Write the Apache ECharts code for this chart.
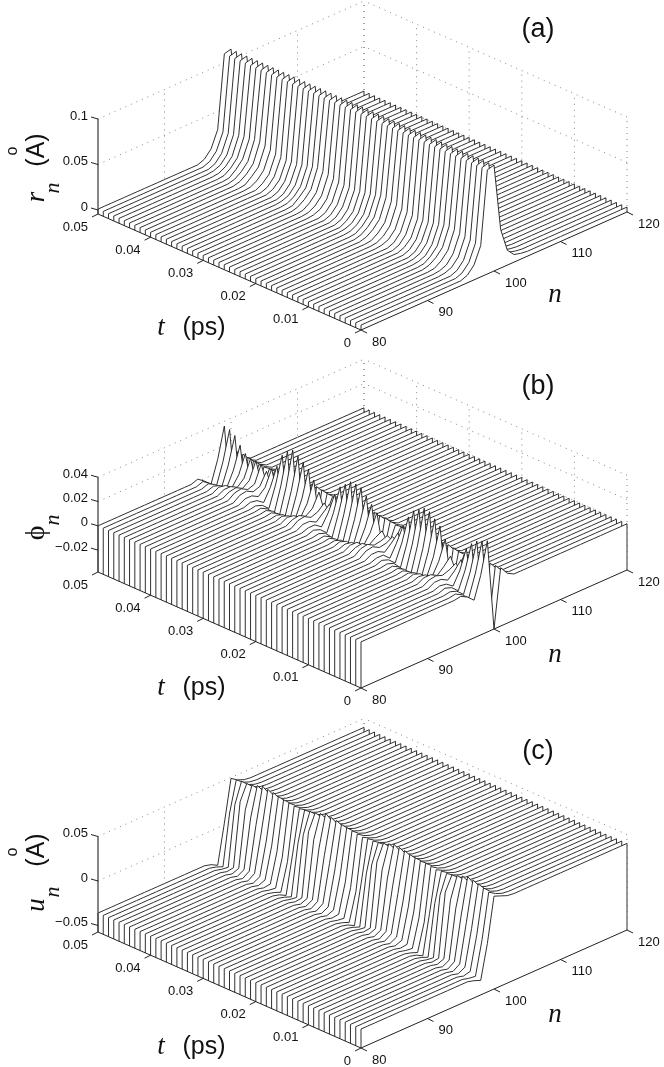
<!DOCTYPE html>
<html>
<head>
<meta charset="utf-8">
<style>html,body{margin:0;padding:0;background:#fff}#main{width:664px;height:1067px}</style>
<script src="https://cdn.jsdelivr.net/npm/echarts@6/dist/echarts.min.js"></script>
</head>
<body>
<div id="main"></div>
<script>
// time of each waterfall line (ps)
var tValues = [0,0.001,0.002,0.003,0.004,0.005,0.006,0.007,0.008,0.009,0.01,0.011,0.012,0.013,0.014,0.015,0.016,0.017,0.018,0.019,0.02,0.021,0.022,0.023,0.024,0.025,0.026,0.027,0.028,0.029,0.03,0.031,0.032,0.033,0.034,0.035,0.036,0.037,0.038,0.039,0.04,0.041,0.042,0.043,0.044,0.045,0.046,0.047,0.048,0.049,0.05];
var nTicks = [80,90,100,110,120];
var tTicks = [0,0.01,0.02,0.03,0.04,0.05];
var tTickLabels = ['0','0.01','0.02','0.03','0.04','0.05'];

// values are in 1e-3 units
// base line per site n=80..120, sites listed below replace it line by line
var rBase = [1,1,1,1,1,1,1,1,1,1,1,1,1,1,1, 1,4,12,30, 110,112,38,12,4,2, 1,1,1,1,1,1,1,1,1,1,1,1,1,1,1,1];
var r95 = [1,1,1,2,2,2,3,2,2,2,1,1,1,1,1,2,2,2,3,3,2,2,2,1,1,1,1,1,2,2,2,3,2,2,2,1,1,1,1,1,2,2,3,3,2,2,2,2,1,1,1];
var r96 = [4,4,4,5,5,7,8,7,5,5,4,4,4,4,4,5,6,7,8,8,7,6,5,5,4,4,4,4,5,6,7,8,8,6,5,4,4,4,4,5,6,8,8,8,8,7,6,5,4,4,4];
var r97 = [12,12,12,13,14,15,16,15,14,13,12,12,11,12,12,13,14,15,16,16,15,14,13,12,12,12,12,12,13,14,15,16,15,14,13,12,12,11,12,12,14,15,16,16,16,15,14,13,12,12,12];
var r98 = [30,30,31,32,33,35,36,35,33,32,30,30,29,30,31,32,34,35,37,37,35,33,32,31,30,30,30,31,32,34,35,37,35,33,32,30,30,29,30,31,33,35,37,37,35,35,34,32,31,30,30];
var rTicks = [0,50,100];
var rTickLabels = ['0','0.05','0.1'];

var phiBase = [0,0,0,0,0,0,0,0,0,0,0,0,0,0,0, 1,-2,-7,11,33,-27,9, 3,0,0, 0,0,0,0,0,0,0,0,0,0,0,0,0,0,0,0];
var phi95 = [1,1,1,2,2,3,3,3,2,2,1,1,1,1,1,2,2,3,4,4,3,3,2,2,1,1,1,1,2,2,3,4,3,3,2,1,1,1,1,1,2,3,4,4,3,3,3,2,2,2,2];
var phi96 = [-2,-2,-1,0,1,3,4,3,1,0,-1,-2,-2,-2,-1,0,2,3,5,5,4,3,1,0,-1,-2,-2,-1,0,2,3,5,4,2,0,-1,-2,-2,-2,-1,1,3,5,5,4,3,2,0,-1,-2,-2];
var phi97 = [-7,-7,-6,-5,-3,0,2,0,-3,-5,-7,-8,-8,-8,-7,-5,-3,0,2,2,0,-2,-4,-6,-7,-8,-8,-7,-5,-2,0,2,1,-2,-5,-7,-8,-8,-8,-6,-3,0,2,2,1,0,-2,-4,-6,-7,-7];
var phi98 = [11,11,10,9,7,5,4,5,7,9,11,12,13,12,11,9,7,5,3,3,4,6,8,10,11,12,12,11,9,7,5,4,5,7,9,11,12,13,12,11,7,5,4,4,5,5,6,8,10,11,11];
var phi99 = [37,35,33,29,23,12,7,11,23,32,36,40,41,38,35,28,19,11,6,5,7,20,25,30,35,36,36,32,28,20,10,9,16,24,31,35,38,41,38,33,22,18,14,18,19,19,21,26,32,35,36];
var phi100 = [-38,-35,-33,-29,-21,-9,-3,-7,-19,-27,-31,-34,-35,-34,-31,-25,-15,-7,-3,-3,-7,-15,-23,-27,-30,-32,-32,-29,-25,-17,-7,-3,-6,-17,-26,-30,-33,-35,-33,-29,-19,-9,-4,-4,-7,-9,-11,-21,-27,-30,-31];
var phi101 = [10,10,10,9,8,7,7,7,8,9,10,10,10,10,10,9,8,7,7,7,7,8,9,9,10,10,10,10,9,8,7,7,7,8,9,10,10,10,10,9,8,7,7,7,7,7,7,8,9,10,10];
var phiTicks = [-20,0,20,40];
var phiTickLabels = ['\u22120.02','0','0.02','0.04'];

var uBase = [-36,-36,-36,-36,-36,-36,-36,-36,-36,-36,-36,-36,-36,-36,-36,-36,-36, -38, -41,0,47, 44,41, 40,40,40,40,40,40,40,40,40,40,40,40,40,40,40,40,40,40];
var u98 = [-41,-39,-36,-34,-33,-33,-34,-35,-37,-39,-41,-42,-41,-39,-37,-35,-34,-33,-33,-34,-35,-37,-39,-41,-42,-41,-39,-37,-35,-34,-33,-33,-34,-35,-37,-39,-41,-42,-41,-39,-37,-35,-34,-33,-33,-34,-35,-37,-39,-41,-42];
var u99 = [-3,-1,2,6,10,15,21,28,34,28,16,2,-10,-8,-4,0,4,9,15,21,28,34,28,16,2,-10,-8,-4,0,4,9,15,21,28,34,28,16,2,-10,-8,-4,0,4,9,15,21,28,34,28,16,2];
var u100 = [47,49,51,53,55,56,54,52,50,49,49,48,49,50,50,51,52,54,55,56,54,52,50,49,49,48,49,50,51,52,54,55,57,54,52,51,50,49,49,50,51,52,54,55,56,54,52,51,51,50,49];
var uTicks = [-50,0,50];
var uTickLabels = ['\u22120.05','0','0.05'];

var views = [
    {base: rBase, lines: {95: r95, 96: r96, 97: r97, 98: r98}, zMin: -4.4, zMax: 100, zPx: 0.91, zTicks: rTicks, zLabels: rTickLabels, floorY: 330},
    {base: phiBase, lines: {95: phi95, 96: phi96, 97: phi97, 98: phi98, 99: phi99, 100: phi100, 101: phi101}, zMin: -38, zMax: 40, zPx: 1.215, zTicks: phiTicks, zLabels: phiTickLabels, floorY: 688},
    {base: uBase, lines: {98: u98, 99: u99, 100: u100}, zMin: -57.3, zMax: 50, zPx: 0.89, zTicks: uTicks, zLabels: uTickLabels, floorY: 1048}
];

var tickFont = '"Liberation Sans"';
var lineColor = '#1a1a1a';

// the 3d box is orthographic, so n, t and z map linearly on to the plane axes
function toPlane(view, n, t, z) {
    var nf = (n - 80) / 40, tf = t / 0.05;
    return [266 * nf - 263 * tf, 118 * nf + 116 * tf + (z - view.zMin) * view.zPx];
}

function profile(view, k) {
    var vals = view.base.slice();
    for (var key in view.lines) {
        vals[key - 80] = view.lines[key][k];
    }
    return vals;
}

function ribbonItem(view) {
    return function (params, api) {
        var k = api.value(0), t = tValues[k];
        var vals = profile(view, k);
        var pts = [api.coord(toPlane(view, 80, t, view.zMin))];
        vals.forEach(function (v, i) {
            pts.push(api.coord(toPlane(view, 80 + i, t, v)));
        });
        pts.push(api.coord(toPlane(view, 120, t, view.zMin)));
        return {
            type: 'group',
            children: [
                {type: 'polygon', shape: {points: pts}, style: {fill: '#fff', stroke: null}},
                {type: 'polyline', shape: {points: pts}, style: {fill: null, stroke: lineColor, lineWidth: 0.9}}
            ]
        };
    };
}

function seg(api, view, a, b, style) {
    var p = api.coord(toPlane(view, a[0], a[1], a[2]));
    var q = api.coord(toPlane(view, b[0], b[1], b[2]));
    return {type: 'line', shape: {x1: p[0], y1: p[1], x2: q[0], y2: q[1]}, style: style};
}

function wallItem(view) {
    return function (params, api) {
        var dot = {stroke: '#777', lineWidth: 0.9, lineDash: [1, 5]};
        var kids = [];
        view.zTicks.forEach(function (z) {
            kids.push(seg(api, view, [80, 0.05, z], [120, 0.05, z], dot));
            kids.push(seg(api, view, [120, 0, z], [120, 0.05, z], dot));
        });
        nTicks.slice(1).forEach(function (n) {
            kids.push(seg(api, view, [n, 0.05, view.zMin], [n, 0.05, view.zMax], dot));
        });
        tTicks.forEach(function (t) {
            kids.push(seg(api, view, [120, t, view.zMin], [120, t, view.zMax], dot));
        });
        return {type: 'group', children: kids};
    };
}

function label(p, dx, dy, text, align) {
    return {
        type: 'text', x: p[0] + dx, y: p[1] + dy,
        style: {text: text, fill: '#111', fontSize: 13, fontFamily: tickFont, align: align, verticalAlign: 'middle'}
    };
}

function axisItem(view) {
    return function (params, api) {
        var ax = {stroke: '#222', lineWidth: 1};
        var kids = [
            seg(api, view, [80, 0, view.zMin], [120, 0, view.zMin], ax),
            seg(api, view, [80, 0, view.zMin], [80, 0.05, view.zMin], ax),
            seg(api, view, [80, 0.05, view.zMin], [80, 0.05, view.zMax], {stroke: '#444', lineWidth: 1.3})
        ];
        nTicks.forEach(function (n) {
            var p = api.coord(toPlane(view, n, 0, view.zMin));
            kids.push({type: 'line', shape: {x1: p[0], y1: p[1], x2: p[0] + 6, y2: p[1] + 3}, style: ax});
            kids.push(label(p, 11, 12, String(n), 'left'));
        });
        tTicks.forEach(function (t, i) {
            var p = api.coord(toPlane(view, 80, t, view.zMin));
            kids.push({type: 'line', shape: {x1: p[0], y1: p[1], x2: p[0] - 6, y2: p[1] + 3}, style: ax});
            kids.push(label(p, -10, 13, tTickLabels[i], 'right'));
        });
        view.zTicks.forEach(function (z, i) {
            var p = api.coord(toPlane(view, 80, 0.05, z));
            kids.push({type: 'line', shape: {x1: p[0], y1: p[1], x2: p[0] - 7, y2: p[1] - 2}, style: ax});
            kids.push(label(p, -10, -3, view.zLabels[i], 'right'));
        });
        return {type: 'group', children: kids};
    };
}

var grids = [], xAxes = [], yAxes = [], series = [];
views.forEach(function (view, i) {
    grids.push({left: 98, width: 529, top: view.floorY - 330, height: 330});
    xAxes.push({type: 'value', gridIndex: i, min: -263, max: 266, show: false});
    yAxes.push({type: 'value', gridIndex: i, min: 0, max: 330, show: false});
    var common = {type: 'custom', xAxisIndex: i, yAxisIndex: i, silent: true, animation: false, clip: false, encode: {x: 0, y: 1}};
    series.push(Object.assign({}, common, {z: 1, renderItem: wallItem(view), data: [[0, 0]]}));
    // far line first so the nearer ribbons hide it
    var order = tValues.map(function (t, k) { return [tValues.length - 1 - k, 0]; });
    series.push(Object.assign({}, common, {z: 2, renderItem: ribbonItem(view), data: order}));
    series.push(Object.assign({}, common, {z: 3, renderItem: axisItem(view), data: [[0, 0]]}));
});

function word(text, x, y, font, rotated) {
    return {
        type: 'text', x: x, y: y, z: 5, rotation: rotated ? Math.PI / 2 : 0,
        style: {text: text, font: font, fill: '#111', textAlign: 'center', textVerticalAlign: 'middle'}
    };
}
var serif = 'italic 27px "Liberation Serif"';
var sub = 'italic 22px "Liberation Serif"';
var sans = '25px "Liberation Sans"';
var panelLabel = '27px "Liberation Sans"';
var graphicEls = [
    word('(a)', 538, 30, panelLabel), word('(b)', 538, 387, panelLabel), word('(c)', 538, 752, panelLabel),
    word('t', 161, 328, serif), word('(ps)', 204, 328, sans),
    word('t', 161, 688, serif), word('(ps)', 204, 688, sans),
    word('t', 161, 1047, serif), word('(ps)', 204, 1047, sans),
    word('n', 555, 295, serif), word('n', 555, 655, serif), word('n', 555, 1015, serif),
    word('r', 37, 197, serif, true), word('n', 53, 188, sub, true), word('(A)', 37, 150, sans, true), word('o', 13, 151, '16px "Liberation Sans"', true),
    word('\u03d5', 37, 533, '28px "Liberation Serif"', true), word('n', 53, 520, sub, true),
    word('u', 37, 905, serif, true), word('n', 53, 892, sub, true), word('(A)', 37, 850, sans, true), word('o', 13, 852, '16px "Liberation Sans"', true)
];

var myChart = echarts.init(document.getElementById('main'), null, {renderer: 'canvas'});
myChart.setOption({
    animation: false,
    backgroundColor: '#fff',
    grid: grids,
    xAxis: xAxes,
    yAxis: yAxes,
    series: series,
    graphic: graphicEls
});
</script>
</body>
</html>
